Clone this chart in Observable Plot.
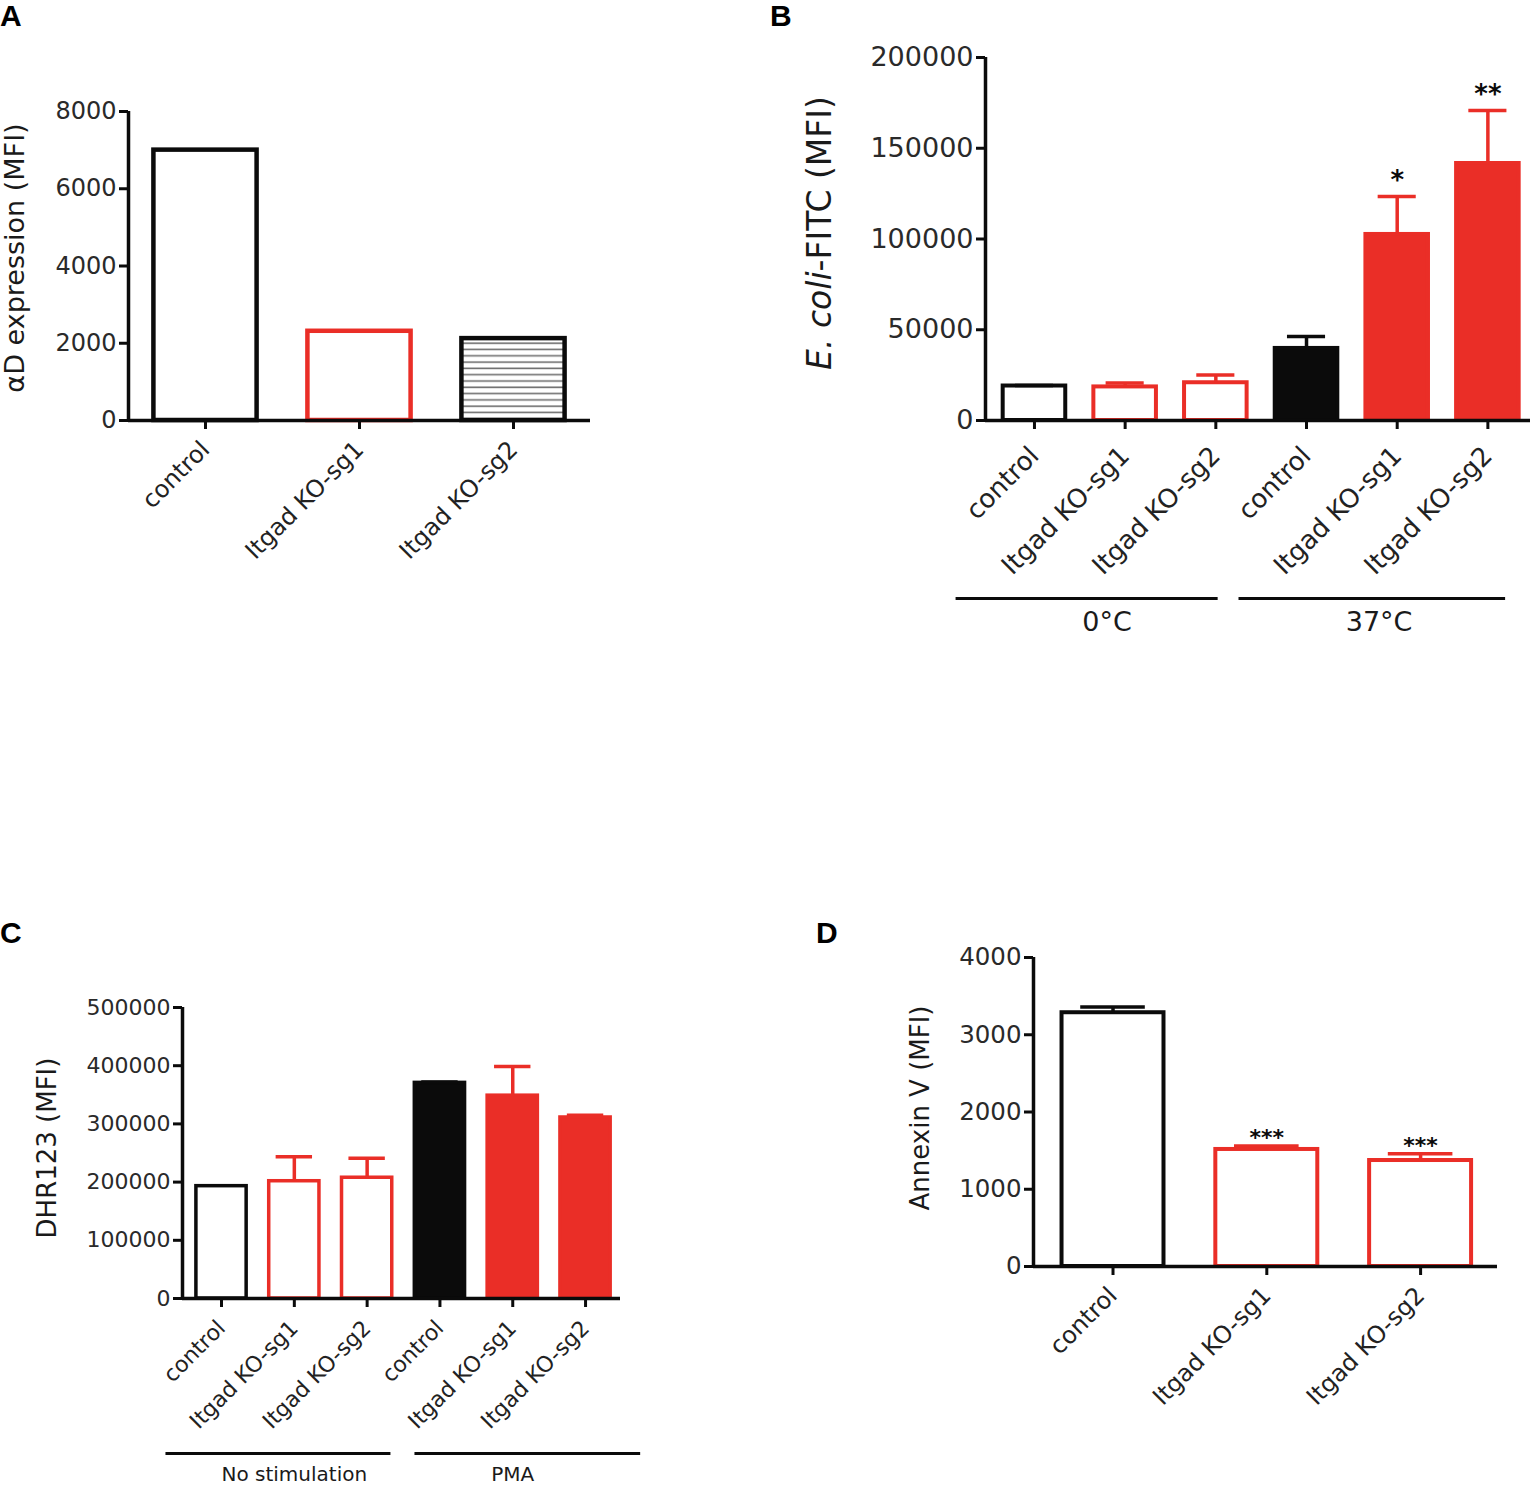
<!DOCTYPE html>
<html><head><meta charset="utf-8">
<script src="https://cdn.jsdelivr.net/npm/d3@7"></script>
<script src="https://cdn.jsdelivr.net/npm/@observablehq/plot@0.6"></script>
<style>
html,body{margin:0;padding:0;background:#fff;}
#fig{position:relative;width:1536px;height:1485px;overflow:hidden;background:#fff;}
.panel{position:absolute;}
.letter{position:absolute;font-family:"Liberation Sans",Arial,sans-serif;font-weight:bold;font-size:30px;line-height:30px;color:#000;}
</style></head><body><div id="fig"></div>
<script>
// ---------- DATA ----------
// Panel A
const catsA = ["control", "Itgad KO-sg1", "Itgad KO-sg2"];
const valuesA = [7000, 2310, 2120];
const ticksA = [0, 2000, 4000, 6000, 8000];

// Panel B
const catsB = ["control", "Itgad KO-sg1", "Itgad KO-sg2", "control", "Itgad KO-sg1", "Itgad KO-sg2"];
const groupB = ["0°C", "0°C", "0°C", "37°C", "37°C", "37°C"];
const meanB = [19000, 18500, 20800, 39700, 102500, 141600];
const errB = [300, 2200, 4300, 6600, 20900, 29200];
const sigB = ["", "", "", "", "*", "**"];
const ticksB = [0, 50000, 100000, 150000, 200000];

// Panel C
const catsC = ["control", "Itgad KO-sg1", "Itgad KO-sg2", "control", "Itgad KO-sg1", "Itgad KO-sg2"];
const groupC = ["No stimulation", "No stimulation", "No stimulation", "PMA", "PMA", "PMA"];
const meanC = [193000, 201500, 207500, 370500, 348500, 311000];
const errC = [0, 42000, 33500, 1500, 50000, 4000];
const ticksC = [0, 100000, 200000, 300000, 400000, 500000];

// Panel D
const catsD = ["control", "Itgad KO-sg1", "Itgad KO-sg2"];
const meanD = [3285, 1515, 1372];
const errD = [75, 45, 86];
const sigD = ["", "***", "***"];
const ticksD = [0, 1000, 2000, 3000, 4000];

// ---------- STYLES ----------
const RED = "#ea2e27", BLACK = "#0b0b0b", WHITE = "#ffffff";
const openBlack = {stroke: BLACK, fill: WHITE}, openRed = {stroke: RED, fill: WHITE};
const solidBlack = {stroke: BLACK, fill: BLACK}, solidRed = {stroke: RED, fill: RED};
const stylesA = [openBlack, openRed, {stroke: BLACK, fill: "url(#hatchA)"}];
const stylesB = [openBlack, openRed, openRed, solidBlack, solidRed, solidRed];
const stylesD = [openBlack, openRed, openRed];
const FONT = "'DejaVu Sans', sans-serif";

const fig = document.getElementById("fig");

function groupSpans(groups) {
  const names = [...new Set(groups)];
  return names.map(name => {
    const idx = groups.map((g, i) => g === name ? i : -1).filter(i => i >= 0);
    return {name, first: idx[0], last: idx[idx.length - 1], mean: d3.mean(idx)};
  });
}

function panel(cfg) {
  const n = cfg.cats.length;
  const rows = cfg.cats.map((cat, i) => ({
    i, cat, v: cfg.values[i],
    err: cfg.errs ? cfg.errs[i] : 0,
    sig: cfg.sig ? cfg.sig[i] : "",
    stroke: cfg.styles[i].stroke, fill: cfg.styles[i].fill
  }));
  const hw = cfg.barW / 2, cw = cfg.capW / 2;
  const withErr = rows.filter(d => d.err > 0);
  const withSig = rows.filter(d => d.sig);
  const marks = [
    Plot.rect(rows, {x1: d => d.i - hw, x2: d => d.i + hw, y1: 0, y2: "v",
      fill: "fill", stroke: "stroke", strokeWidth: cfg.barStroke}),
    Plot.ruleX(withErr, {x: "i", y1: "v", y2: d => d.v + d.err, stroke: "stroke", strokeWidth: cfg.errStroke}),
    Plot.ruleY(withErr, {x1: d => d.i - cw, x2: d => d.i + cw, y: d => d.v + d.err, stroke: "stroke", strokeWidth: cfg.errStroke}),
    Plot.text(withSig, {x: "i", y: d => d.v + d.err, text: "sig", dy: cfg.sigDy, fontSize: cfg.sigFont,
      fontWeight: "bold", fill: BLACK, lineAnchor: "middle"}),
    Plot.ruleY([0], {stroke: BLACK, strokeWidth: 3.5}),
    Plot.ruleX([cfg.xDomain[0]], {stroke: BLACK, strokeWidth: 3.5}),
    Plot.axisY({ticks: cfg.yTicks, tickFormat: d => String(d), tickSize: 9, tickPadding: 3,
      strokeWidth: 3, color: "#2a2a2a", stroke: BLACK, fontSize: cfg.yFont, label: null}),
    Plot.axisX({ticks: d3.range(n), tickFormat: i => cfg.cats[i], tickRotate: -45, tickSize: 9, tickPadding: cfg.xPad,
      strokeWidth: 3, color: "#222", stroke: BLACK, fontSize: cfg.xFont, label: null}),
    Plot.text([cfg.yTitle], {frameAnchor: "left", rotate: -90, dx: cfg.titleDx, dy: cfg.titleDy, text: d => d,
      textAnchor: "middle", lineAnchor: "middle", fontSize: cfg.titleFont, fill: "#1a1a1a"})
  ];
  if (cfg.groups) {
    const spans = groupSpans(cfg.groups).map((g, k) => ({...g, x1: cfg.brackets[k][0], x2: cfg.brackets[k][1]}));
    marks.push(
      Plot.link(spans, {x1: "x1", x2: "x2", y1: 0, y2: 0, dy: cfg.lineDy, stroke: BLACK, strokeWidth: 3}),
      Plot.text(spans, {x: d => d.mean + cfg.labelShift, y: 0, dy: cfg.labelDy, text: "name",
        fontSize: cfg.labelFont, fill: "#1a1a1a", lineAnchor: "middle"})
    );
  }
  const svg = Plot.plot({
    width: cfg.width, height: cfg.height,
    marginLeft: cfg.m[0], marginRight: cfg.m[1], marginTop: cfg.m[2], marginBottom: cfg.m[3],
    x: {type: "linear", domain: cfg.xDomain},
    y: {domain: cfg.yDomain},
    color: {type: "identity"},
    style: {fontFamily: FONT, background: "transparent", overflow: "visible", maxWidth: "none"},
    marks
  });
  if (cfg.onRender) cfg.onRender(svg);
  const div = document.createElement("div");
  div.className = "panel";
  div.style.left = cfg.left + "px";
  div.style.top = cfg.top + "px";
  div.style.width = cfg.width + "px";
  div.style.height = cfg.height + "px";
  div.appendChild(svg);
  fig.appendChild(div);
  const L = document.createElement("div");
  L.className = "letter";
  L.textContent = cfg.letter;
  L.style.left = cfg.letterPos[0] + "px";
  L.style.top = cfg.letterPos[1] + "px";
  fig.appendChild(L);
}

// Panel A
panel({
  letter: "A", letterPos: [0, 1],
  left: 0, top: 0, width: 620, height: 600, m: [128, 30, 111, 180],
  cats: catsA, values: valuesA, styles: stylesA,
  xDomain: [-0.5, 2.5], yDomain: [0, 8000], yTicks: ticksA,
  barW: 0.67, capW: 0.4, barStroke: 4.5, errStroke: 3.5,
  yFont: 24, xFont: 24, xPad: 16, yTitle: "αD expression (MFI)", titleFont: 27, titleDx: -113, titleDy: -8,
  onRender(svg) {
    const defs = d3.select(svg).insert("defs", ":first-child");
    const p = defs.append("pattern").attr("id", "hatchA").attr("patternUnits", "userSpaceOnUse")
      .attr("width", 10).attr("height", 6.3);
    p.append("rect").attr("width", 10).attr("height", 6.3).attr("fill", "#fff");
    p.append("line").attr("x1", 0).attr("x2", 10).attr("y1", 3).attr("y2", 3)
      .attr("stroke", "#6e6e6e").attr("stroke-width", 1.6);
  }
});

// Panel B
panel({
  letter: "B", letterPos: [770, 1],
  left: 760, top: 0, width: 776, height: 660, m: [225, 6, 57, 240],
  cats: catsB, values: meanB, errs: errB, sig: sigB, styles: stylesB, groups: groupB,
  xDomain: [-0.54, 5.47], yDomain: [0, 200000], yTicks: ticksB,
  barW: 0.69, capW: 0.42, barStroke: 4, errStroke: 3.5, sigDy: -16, sigFont: 26,
  yFont: 27, xFont: 26, xPad: 22, yTitle: "E. coli-FITC (MFI)", titleFont: 33, titleDx: -165, titleDy: -6,
  brackets: [[-0.87, 2.02], [2.25, 5.19]], lineDy: 178, labelDy: 202, labelShift: -0.2, labelFont: 27,
  onRender(svg) {
    d3.select(svg).selectAll("text").filter(function() { return this.textContent === "E. coli-FITC (MFI)"; })
      .each(function() {
        const t = d3.select(this);
        t.text(null);
        t.append("tspan").attr("font-style", "italic").text("E.");
        t.append("tspan").text(" ");
        t.append("tspan").attr("font-style", "italic").text("coli");
        t.append("tspan").text("-FITC (MFI)");
      });
  }
});

// Panel C
panel({
  letter: "C", letterPos: [0, 918],
  left: 0, top: 900, width: 660, height: 585, m: [182, 40, 107, 187],
  cats: catsC, values: meanC, errs: errC, styles: stylesB, groups: groupC,
  xDomain: [-0.536, 5.48], yDomain: [0, 500000], yTicks: ticksC,
  barW: 0.69, capW: 0.5, barStroke: 3.5, errStroke: 3.5,
  yFont: 22, xFont: 22, xPad: 17, yTitle: "DHR123 (MFI)", titleFont: 26, titleDx: -135, titleDy: -5,
  brackets: [[-0.77, 2.32], [2.65, 5.75]], lineDy: 155, labelDy: 176, labelShift: 0, labelFont: 20
});

// Panel D
panel({
  letter: "D", letterPos: [816, 918],
  left: 800, top: 900, width: 736, height: 585, m: [233, 39, 57, 219],
  cats: catsD, values: meanD, errs: errD, sig: sigD, styles: stylesD,
  xDomain: [-0.517, 2.5], yDomain: [0, 4000], yTicks: ticksD,
  barW: 0.663, capW: 0.42, barStroke: 4, errStroke: 3.5, sigDy: -8, sigFont: 22,
  yFont: 24.5, xFont: 24, xPad: 16, yTitle: "Annexin V (MFI)", titleFont: 26, titleDx: -113, titleDy: -4
});
</script>
</body></html>
